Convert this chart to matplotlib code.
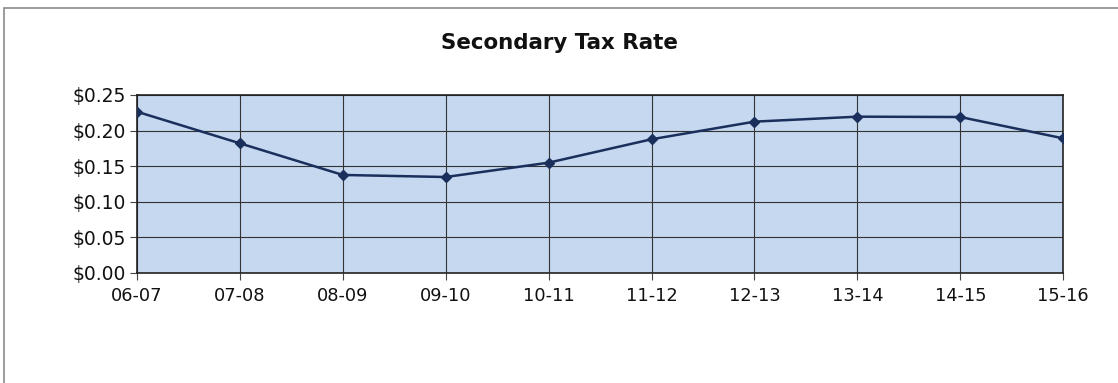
import matplotlib.pyplot as plt
from matplotlib.patches import Rectangle
from matplotlib.ticker import FuncFormatter

# school years and secondary tax rate ($ per $100)
years = ['06-07', '07-08', '08-09', '09-10', '10-11',
         '11-12', '12-13', '13-14', '14-15', '15-16']
rates = [0.2265, 0.182, 0.1375, 0.1346, 0.1548,
         0.1877, 0.2125, 0.2195, 0.219, 0.189]
yticks = [0.00, 0.05, 0.10, 0.15, 0.20, 0.25]

fig = plt.figure(figsize=(11.18, 3.83), dpi=100)
fig.patch.set_facecolor('white')

# outer chart border
fig.patches.append(Rectangle((0.004, -0.01), 1.0, 0.99, transform=fig.transFigure,
                             fill=False, edgecolor='#8a8a8a', linewidth=1.2))

ax = fig.add_axes([0.1225, 0.288, 0.8285, 0.464])
ax.set_facecolor('#c5d8ef')

x = list(range(len(years)))
ax.plot(x, rates, color='#1b2f5c', linewidth=1.8, marker='D', markersize=5,
        markerfacecolor='#1b2f5c', markeredgecolor='#1b2f5c', zorder=3)

ax.set_xlim(0, len(years) - 1)
ax.set_ylim(0, 0.25)
ax.set_xticks(x)
ax.set_xticklabels(years)
ax.set_yticks(yticks)
ax.yaxis.set_major_formatter(FuncFormatter(lambda v, p: f'${v:.2f}'))

ax.grid(True, color='#333333', linewidth=0.8)
ax.set_axisbelow(True)
for s in ax.spines.values():
    s.set_color('#222222')
    s.set_linewidth(1.2)

ax.tick_params(axis='both', color='#444444', length=5, labelcolor='#111111')
ax.tick_params(axis='x', labelsize=12.8, pad=5)
ax.tick_params(axis='y', labelsize=13.5, pad=3)

fig.text(0.5, 0.888, 'Secondary Tax Rate', ha='center', va='center',
         fontsize=15.4, fontweight='bold', color='#111111')

fig.savefig('out.png', dpi=100)
